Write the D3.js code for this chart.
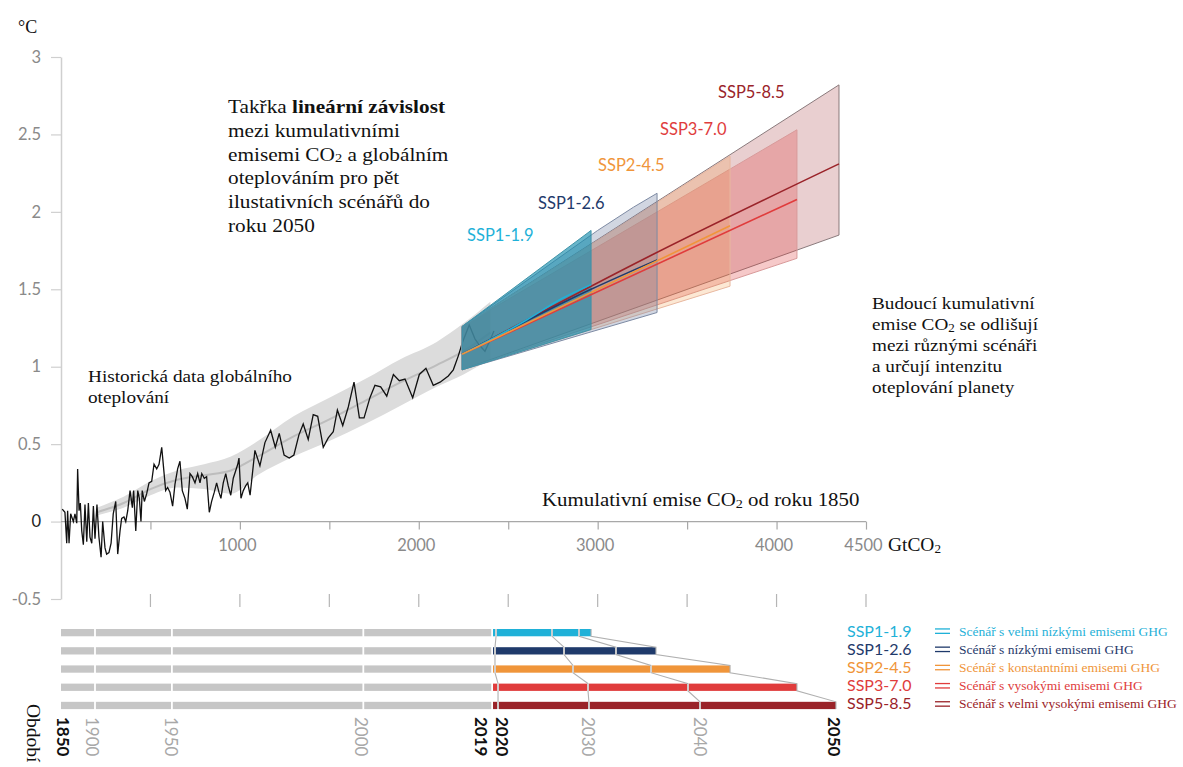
<!DOCTYPE html>
<html><head><meta charset="utf-8">
<script src="https://cdn.jsdelivr.net/npm/d3@7"></script>
<style>body{margin:0;background:#fff;}svg{display:block;}</style>
</head><body>
<svg id="c" width="1183" height="767"></svg>
<script>
// ---------- DATA ----------
const yTicks = [-0.5, 0, 0.5, 1, 1.5, 2, 2.5, 3];
const xTicks = [500, 1000, 1500, 2000, 2500, 3000, 3500, 4000, 4500];
const xTickLabels = ["", "1000", "", "2000", "", "3000", "", "4000", "4500"];

// historical observed warming vs cumulative CO2 (GtCO2, °C)
const histCum = [7,22,32,37,45,54,69,78,88,93,101,108,116,125,134,144,153,162,172,181,190,201,212,224,233,246,255,268,280,292,306,317,330,339,352,362,373,386,399,406,418,429,438,447,454,466,479,492,507,520,535,548,563,574,585,596,609,624,637,652,665,678,693,706,721,734,749,764,777,787,801,814,829,842,857,870,883,894,907,921,935,949,963,977,988,995,1006,1019,1032,1044,1057,1084,1112,1140,1172,1198,1220,1247,1276,1302,1330,1354,1382,1410,1435,1466,1494,1522,1545,1575,1606,1638,1668,1694,1727,1755,1787,1821,1858,1891,1923,1966,2003,2040,2081,2119,2165,2193,2221,2245,2282,2314,2338,2370,2402,2420];
const histTemp = [0.08,0.06,-0.14,0.07,-0.14,0.05,0.0,0.05,-0.01,0.34,0.07,0.12,-0.06,-0.15,0.11,-0.13,0.12,-0.10,-0.14,0.10,-0.11,0.11,-0.10,-0.23,0.0,-0.17,-0.21,-0.20,-0.14,0.05,0.13,-0.21,-0.06,0.02,0.03,0.0,0.07,0.20,0.09,0.20,-0.06,0.20,0.15,0.0,0.20,0.13,0.18,0.25,0.26,0.37,0.34,0.37,0.48,0.34,0.20,0.22,0.19,0.10,0.24,0.34,0.39,0.20,0.15,0.08,0.31,0.29,0.25,0.31,0.25,0.31,0.28,0.29,0.06,0.13,0.19,0.25,0.19,0.15,0.25,0.31,0.23,0.17,0.28,0.33,0.37,0.41,0.15,0.20,0.23,0.25,0.17,0.46,0.36,0.51,0.59,0.48,0.57,0.43,0.41,0.43,0.56,0.63,0.53,0.69,0.68,0.48,0.54,0.58,0.72,0.62,0.74,0.90,0.67,0.67,0.80,0.88,0.87,0.81,0.95,0.91,0.92,0.80,0.95,0.99,0.88,0.90,0.94,0.98,1.07,1.16,1.27,1.18,1.14,1.10,1.18,1.23];

// smoothed historical estimate with uncertainty
const smoothCum  = [200, 350, 500, 650, 800, 950, 1100, 1300, 1500, 1700, 1900, 2100, 2250, 2400];
const smoothMid  = [0.06,0.12,0.21,0.27,0.30,0.33,0.42,0.55,0.66,0.78,0.90,1.01,1.10,1.22];
const smoothLow  = [0.04,0.09,0.17,0.22,0.21,0.18,0.30,0.42,0.52,0.63,0.75,0.87,0.95,1.05];
const smoothHigh = [0.09,0.16,0.26,0.33,0.37,0.42,0.52,0.68,0.80,0.92,1.05,1.16,1.28,1.42];

const scenarios = ["SSP1-1.9", "SSP1-2.6", "SSP2-4.5", "SSP3-7.0", "SSP5-8.5"];
const scenColors = ["#1fb1d8", "#1f3a6b", "#f0953a", "#e03c3c", "#9a2329"];
const scenDesc = ["Scénář s velmi nízkými emisemi GHG", "Scénář s nízkými emisemi GHG", "Scénář s konstantními emisemi GHG", "Scénář s vysokými emisemi GHG", "Scénář s velmi vysokými emisemi GHG"];

// central estimate [cum, °C]
const ssp119Mid = [[2242,1.08],[2600,1.30],[2800,1.44],[2963,1.53]];
const ssp126Mid = [[2242,1.08],[2963,1.50],[3332,1.69]];
const ssp245Mid = [[2242,1.08],[3740,1.91]];
const ssp370Mid = [[2242,1.08],[4114,2.08]];
const ssp585Mid = [[2242,1.08],[3300,1.72],[4349,2.31]];
// likely ranges
const ssp119Up = [[2242,1.26],[2963,1.88]], ssp119Lo = [[2242,0.98],[2963,1.24]];
const ssp126Up = [[2242,1.26],[3000,1.88],[3200,2.03],[3332,2.12]], ssp126Lo = [[2242,0.98],[3332,1.35]];
const ssp245Up = [[2242,1.26],[3740,2.36]], ssp245Lo = [[2242,0.98],[3740,1.52]];
const ssp370Up = [[2242,1.26],[4114,2.53]], ssp370Lo = [[2242,0.98],[4114,1.70]];
const ssp585Up = [[2242,1.26],[4349,2.82]], ssp585Lo = [[2242,0.98],[4349,1.85]];

// timeline: years mapped onto cumulative emissions
const histYears = ["1850", "1900", "1950", "2000", "2019"];
const histYearCum = [0, 190, 620, 1690, 2410];
const futYears = ["2020", "2030", "2040", "2050"];
const ssp119YearCum = [2432, 2745, 2896, 2963];
const ssp126YearCum = [2426, 2812, 3102, 3326];
const ssp245YearCum = [2426, 2862, 3298, 3740];
const ssp370YearCum = [2443, 2946, 3505, 4114];
const ssp585YearCum = [2443, 2951, 3572, 4332];

// ---------- DRAW ----------
const svg = d3.select("#c");
const SERIF = "Liberation Serif, Times New Roman, serif";
const SANS = "Lato, Open Sans, sans-serif";
const x = d3.scaleLinear().domain([0, 4500]).range([61, 866]);
const y = d3.scaleLinear().domain([-0.5, 3]).range([599, 57]);

function richLine(sel, xx, yb, parts, size, sx, fill) {
  const t = sel.append("text").attr("transform", `translate(${xx},${yb}) scale(${sx || 1},1)`)
    .attr("font-family", SERIF).attr("font-size", size).attr("fill", fill || "#111");
  let shifted = false;
  parts.forEach(p => {
    const s = t.append("tspan").text(p.t);
    if (p.b) s.attr("font-weight", "bold");
    if (p.sub) { s.attr("font-size", size * 0.68).attr("dy", size * 0.1); shifted = true; }
    else if (shifted) { s.attr("dy", -size * 0.1); shifted = false; }
  });
  return t;
}

// Y axis
const yAx = svg.append("g").attr("transform", `translate(${x(0)},0)`)
  .call(d3.axisLeft(y).tickValues(yTicks).tickSize(10).tickSizeOuter(0).tickPadding(10).tickFormat(d => d));
yAx.select(".domain").attr("stroke", "#cfcfcf").attr("stroke-width", 1.5);
yAx.selectAll(".tick line").attr("stroke", "#cfcfcf").attr("stroke-width", 1.2);
yAx.selectAll(".tick text").attr("font-family", SANS).attr("font-size", 16.5)
  .attr("fill", d => d === 0 ? "#222" : "#8a8a8a");

// X axis at 0
const xAx = svg.append("g").attr("transform", `translate(0,${y(0)})`)
  .call(d3.axisBottom(x).tickValues(xTicks).tickSize(8).tickSizeOuter(0).tickPadding(10)
    .tickFormat((d, i) => xTickLabels[i]));
xAx.select(".domain").attr("stroke", "#a8a8a8").attr("stroke-width", 1.3)
  .attr("d", `M${x(0)},0H${x(4500)}`);
xAx.selectAll(".tick line").attr("stroke", "#a8a8a8").attr("stroke-width", 1.2);
xAx.selectAll(".tick text").attr("font-family", SANS).attr("font-size", 16.5).attr("fill", "#8a8a8a")
  .attr("dx", -3);

// bottom tick row
svg.append("g").selectAll("line").data(xTicks).join("line")
  .attr("x1", d => x(d)).attr("x2", d => x(d))
  .attr("y1", y(-0.5) - 5).attr("y2", y(-0.5) + 8)
  .attr("stroke", "#b5b5b5").attr("stroke-width", 1.2);

// historical smoothed band
const sm = smoothCum.map((c, i) => ({c, m: smoothMid[i], lo: smoothLow[i], hi: smoothHigh[i]}));
svg.append("path").datum(sm)
  .attr("d", d3.area().x(d => x(d.c)).y0(d => y(d.lo)).y1(d => y(d.hi)).curve(d3.curveMonotoneX))
  .attr("fill", "#dcdcdc");
svg.append("path").datum(sm)
  .attr("d", d3.line().x(d => x(d.c)).y(d => y(d.m)).curve(d3.curveMonotoneX))
  .attr("fill", "none").attr("stroke", "#bdbdbd").attr("stroke-width", 2);

// historical line
const hist = histCum.map((c, i) => [c, histTemp[i]]);
svg.append("path").datum(hist)
  .attr("d", d3.line().x(d => x(d[0])).y(d => y(d[1])))
  .attr("fill", "none").attr("stroke", "#111").attr("stroke-width", 1.3);

// scenario bands
const bandDefs = [
  {up: ssp585Up, lo: ssp585Lo, fill: "#9a2329", op: 0.22, stroke: "#8a7a7c"},
  {up: ssp370Up, lo: ssp370Lo, fill: "#e03c3c", op: 0.28, stroke: "#d89a9a"},
  {up: ssp245Up, lo: ssp245Lo, fill: "#f0953a", op: 0.22, stroke: "#e8b8a0"},
  {up: ssp126Up, lo: ssp126Lo, fill: "#6f7fa3", op: 0.32, stroke: "#7d8aa3"},
  {up: ssp119Up, lo: ssp119Lo, fill: "#1a8eae", op: 0.66, stroke: "#3f93a8"}
];
const lnLin = d3.line().x(d => x(d[0])).y(d => y(d[1]));
const lnSmooth = d3.line().x(d => x(d[0])).y(d => y(d[1])).curve(d3.curveMonotoneX);
bandDefs.forEach(b => {
  const pts = b.up.concat(b.lo.slice().reverse());
  svg.append("path").attr("d", lnLin(pts) + "Z")
    .attr("fill", b.fill).attr("fill-opacity", b.op)
    .attr("stroke", b.stroke).attr("stroke-width", 1);
});

// central lines
[[ssp585Mid, 4], [ssp370Mid, 3], [ssp126Mid, 1], [ssp119Mid, 0], [ssp245Mid, 2]].forEach(([d, i]) => {
  svg.append("path").attr("d", lnSmooth(d))
    .attr("fill", "none").attr("stroke", scenColors[i]).attr("stroke-width", 1.6);
});

// scenario labels on chart
const labelPos = [[467, 241], [538, 209], [598, 171], [660, 135], [718, 98]];
scenarios.forEach((s, i) => {
  svg.append("text").attr("x", labelPos[i][0]).attr("y", labelPos[i][1])
    .attr("font-family", SANS).attr("font-size", 16.5).attr("fill", scenColors[i]).text(s);
});

// annotations
const ann = svg.append("g");
const topLines = [
  [{t: "Takřka "}, {t: "lineární závislost", b: true}],
  [{t: "mezi kumulativními"}],
  [{t: "emisemi CO"}, {t: "2", sub: true}, {t: " a globálním"}],
  [{t: "oteplováním pro pět"}],
  [{t: "ilustativních scénářů do"}],
  [{t: "roku 2050"}]
];
topLines.forEach((p, i) => richLine(ann, 228, 113 + i * 23.8, p, 18.5, 1.15));
richLine(ann, 88, 382, [{t: "Historická data globálního"}], 17.5, 1.1);
richLine(ann, 88, 403, [{t: "oteplování"}], 17.5, 1.1);
const rightLines = [
  [{t: "Budoucí kumulativní"}],
  [{t: "emise CO"}, {t: "2", sub: true}, {t: " se odlišují"}],
  [{t: "mezi různými scénáři"}],
  [{t: "a určují intenzitu"}],
  [{t: "oteplování planety"}]
];
rightLines.forEach((p, i) => richLine(ann, 872, 309 + i * 21, p, 17, 1.13));
richLine(ann, 542, 506, [{t: "Kumulativní emise CO"}, {t: "2", sub: true}, {t: " od roku 1850"}], 18.5, 1.13);
richLine(ann, 888, 551, [{t: "GtCO"}, {t: "2", sub: true}], 18.5, 1.05);
richLine(ann, 18, 33, [{t: "°C"}], 18);

// ---------- timeline ----------
const row = d3.scaleBand().domain(scenarios).range([629, 709.1]).paddingInner(0.6).paddingOuter(0);
const yearCums = [ssp119YearCum, ssp126YearCum, ssp245YearCum, ssp370YearCum, ssp585YearCum];
const tl = svg.append("g");
const gap = 0.9;
scenarios.forEach((s, i) => {
  const y0 = row(s), h = row.bandwidth();
  for (let k = 0; k < histYearCum.length - 1; k++) {
    const a = x(histYearCum[k]) + (k === 0 ? 0 : gap), b = x(histYearCum[k + 1]) - gap;
    tl.append("rect").attr("x", a).attr("y", y0).attr("width", b - a).attr("height", h).attr("fill", "#c6c6c6");
  }
  const cs = [histYearCum[histYearCum.length - 1]].concat(yearCums[i]);
  for (let k = 0; k < cs.length - 1; k++) {
    const a = x(cs[k]) + gap, b = x(cs[k + 1]) - (k === cs.length - 2 ? 0 : gap);
    tl.append("rect").attr("x", a).attr("y", y0).attr("width", b - a).attr("height", h).attr("fill", scenColors[i]);
  }
});
// connecting year lines
futYears.forEach((yr, k) => {
  const pts = [];
  scenarios.forEach((s, i) => {
    pts.push([x(yearCums[i][k]), row(s)]);
    pts.push([x(yearCums[i][k]), row(s) + row.bandwidth()]);
  });
  tl.append("path").attr("d", d3.line()(pts)).attr("fill", "none")
    .attr("stroke", "#b0b0b0").attr("stroke-width", 1.1);
});

// year labels (rotated)
const lastRow = ssp585YearCum;
const yearLab = [
  {t: "1850", px: x(histYearCum[0]) + 2.5, bold: true},
  {t: "1900", px: x(histYearCum[1]) - 3, bold: false},
  {t: "1950", px: x(histYearCum[2]) - 1, bold: false},
  {t: "2000", px: x(histYearCum[3]) - 2, bold: false},
  {t: "2019", px: x(histYearCum[4]) - 10.5, bold: true},
  {t: "2020", px: x(lastRow[0]) + 4.5, bold: true},
  {t: "2030", px: x(lastRow[1]) - 0.5, bold: false},
  {t: "2040", px: x(lastRow[2]), bold: false},
  {t: "2050", px: x(lastRow[3]) - 2, bold: true}
];
yearLab.forEach(l => {
  tl.append("text").attr("transform", `translate(${l.px},717) rotate(90)`)
    .attr("dy", "0.36em").attr("font-family", SANS).attr("font-size", 17)
    .attr("font-weight", l.bold ? "bold" : "normal")
    .attr("fill", l.bold ? "#111" : "#a8a8a8").text(l.t);
});
tl.append("text").attr("transform", "translate(34,704) rotate(90)").attr("dy", "0.36em")
  .attr("font-family", SERIF).attr("font-size", 19.5).attr("fill", "#111").text("Období");

// legend
scenarios.forEach((s, i) => {
  const cy = row(s) + row.bandwidth() / 2 - 1.5;
  tl.append("text").attr("x", 847).attr("y", cy + 5.5).attr("font-family", SANS)
    .attr("font-size", 16).attr("fill", scenColors[i]).text(s);
  [-2.2, 2.2].forEach(o => tl.append("line").attr("x1", 935).attr("x2", 950)
    .attr("y1", cy + o).attr("y2", cy + o).attr("stroke", scenColors[i]).attr("stroke-width", 1.3));
  tl.append("text").attr("x", 959).attr("y", cy + 4.5).attr("font-family", SERIF)
    .attr("font-size", 13.5).attr("fill", scenColors[i]).text(scenDesc[i]);
});
</script>
</body></html>
